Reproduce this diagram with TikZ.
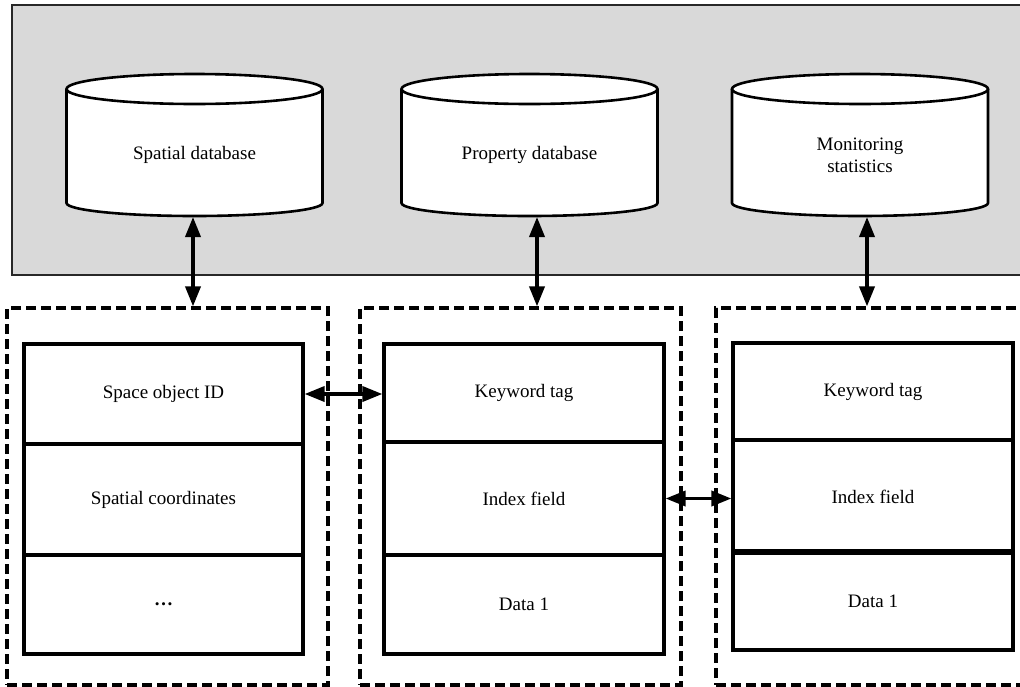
\documentclass[tikz,border=0pt]{standalone}
\usepackage{fontspec}
\setmainfont{Liberation Serif}
\usetikzlibrary{arrows.meta}
\definecolor{bggray}{RGB}{217,217,217}
\definecolor{frame}{RGB}{40,40,40}
\newcommand\dbcyl[4]{%
  \fill[white] (#2-128,89) -- (#2-128,203) arc[start angle=180,end angle=0,x radius=128pt,y radius=13pt] -- (#2+128,89) -- cycle;
  \draw[cylline] (#2-128,89) -- (#2-128,203) arc[start angle=180,end angle=0,x radius=128pt,y radius=13pt] -- (#2+128,89);
  \draw[cylline,fill=white] (#2,89) ellipse[x radius=128pt,y radius=15pt];
  \node[anchorbox,minimum width=10pt,minimum height=144pt] (#1) at (#4,145) {};
  \node[align=center] (#1t) at (#2,155) {#3};
}
\begin{document}
\begin{tikzpicture}[x=1pt,y=1pt,yscale=-1,
  font=\fontsize{19}{22}\selectfont,
  cell/.style={draw,line width=3.2pt,inner sep=0pt,align=center},
  dbox/.style={draw,dash pattern=on 10pt off 5pt,line width=3.2pt,inner sep=0pt},
  cylline/.style={line width=2.6pt},
  biarr/.style={line width=3.6pt,{Triangle[length=20pt,width=15pt]}-{Triangle[length=20pt,width=15pt]}},
  anchorbox/.style={inner sep=0pt,outer sep=0pt}]
\useasboundingbox (0,0) rectangle (1020,686);
% top gray panel
\draw[line width=2.4pt,draw=frame,fill=bggray] (12,5) rectangle (1030,275);
% cylinders
\dbcyl{c1}{194.5}{Spatial database}{193}
\dbcyl{c2}{529.5}{Property database}{537}
\dbcyl{c3}{860}{Monitoring\\statistics}{867}
% dashed groups
\node[dbox,minimum width=321pt,minimum height=377pt] (D1) at (167.5,496.5) {};
\node[dbox,minimum width=321pt,minimum height=377pt] (D2) at (520.5,496.5) {};
\node[dbox,minimum width=314pt,minimum height=377pt] (D3) at (873,496.5) {};
% left table
\node[cell,minimum width=279pt,minimum height=100pt] (L1) at (163.5,394) {Space object ID};
\node[cell,minimum width=279pt,minimum height=111pt] (L2) at (163.5,499.5) {Spatial coordinates};
\node[cell,minimum width=279pt,minimum height=99pt] (L3) at (163.5,604.5) {\textbf{…}};
% middle table
\node[cell,minimum width=280pt,minimum height=98pt] (M1) at (524,393) {Keyword tag};
\node[cell,minimum width=280pt,minimum height=113pt] (M2) at (524,498.5) {Index field};
\node[cell,minimum width=280pt,minimum height=99pt] (M3) at (524,604.5) {Data 1};
% right table
\node[cell,minimum width=280pt,minimum height=97pt] (R1) at (873,391.5) {Keyword tag};
\node[cell,minimum width=280pt,minimum height=113pt] (R2) at (873,496.5) {Index field};
\node[cell,minimum width=280pt,minimum height=97pt] (R3) at (873,601.5) {Data 1};
\draw[line width=4.8pt] (R3.north west) -- (R3.north east);
% connectors
\draw[biarr] (c1.south) -- (c1.south |- D1.north);
\draw[biarr] (c2.south) -- (c2.south |- D2.north);
\draw[biarr] (c3.south) -- (c3.south |- D3.north);
\draw[biarr] (L1.east) -- (L1.east -| M1.west);
\draw[biarr] (M2.east) -- (M2.east -| R2.west);
\end{tikzpicture}
\end{document}
